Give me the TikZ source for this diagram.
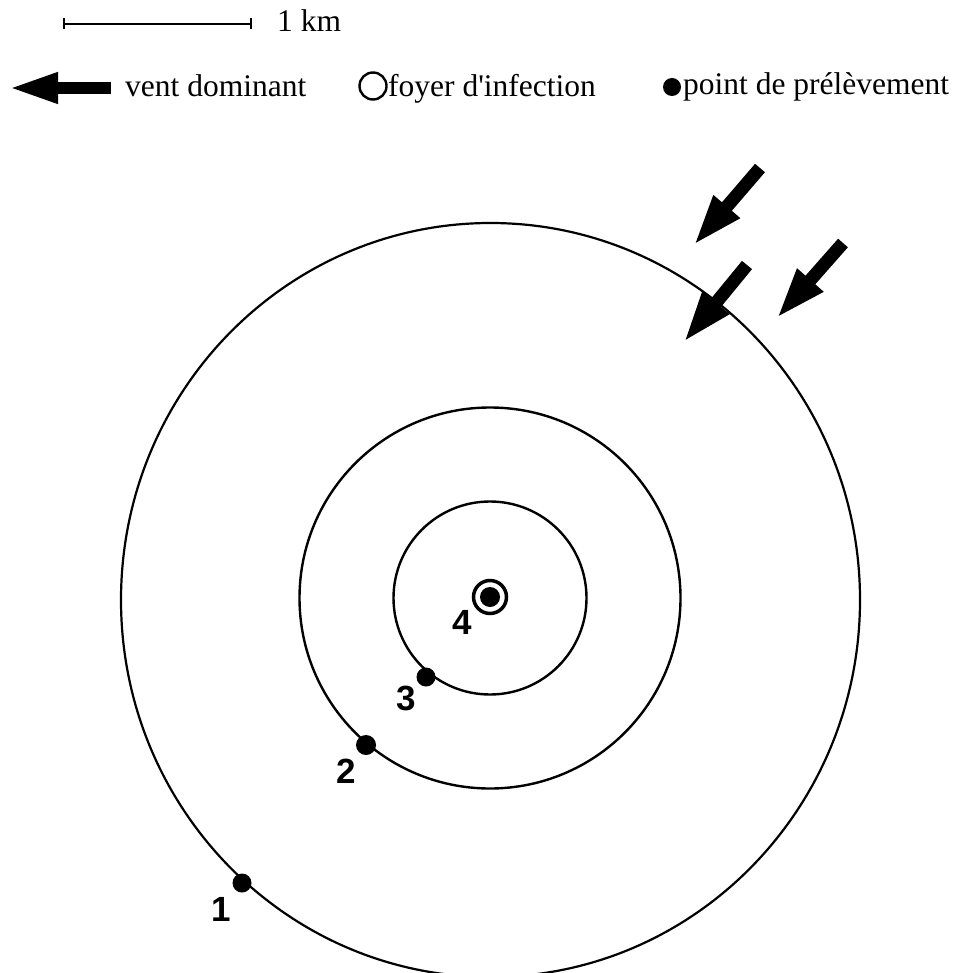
\documentclass[tikz,border=0pt]{standalone}
\usepackage{fontspec}
\setmainfont{Liberation Serif}
\newfontfamily\numfont{Liberation Sans}
\usetikzlibrary{arrows.meta,calc}
\tikzset{
  legtext/.style={anchor=base west, inner sep=0pt, font=\fontsize{31.5}{36}\selectfont},
  numlabel/.style={inner sep=0pt, font=\numfont\bfseries\fontsize{35}{40}\selectfont},
  ring/.style={line width=2.4pt},
  sample/.style={circle, fill=black, inner sep=0pt, minimum size=19pt},
  windarrow/.style={line width=13pt, -{Triangle[length=52pt,width=31pt]}},
}
\begin{document}
\begin{tikzpicture}[x=1pt,y=-1pt]
\useasboundingbox (0,0) rectangle (965,973);
\clip (0,0) rectangle (965,973);
% scale bar
\coordinate (sbL) at (63,24);
\coordinate (sbR) at (252,24);
\draw[line width=1.8pt, {Bar[width=11pt,line width=2pt]}-{Bar[width=11pt,line width=2pt]}] (sbL) -- (sbR);
\node[legtext] (km) at (277,32) {1 km};
% legend
\coordinate (legT) at (111,88);
\coordinate (legH) at (8,88);
\draw[line width=12pt, -{Triangle[length=50pt,width=28pt]}] (legT) -- (legH);
\node[legtext] (vent) at (125,97) {vent dominant};
\node[circle, draw, line width=2.4pt, minimum size=27pt, inner sep=0pt] (legfoyer) at (373,86) {};
\node[legtext] (foyer) at (388,97) {foyer d\textquotesingle infection};
\node[sample, minimum size=18pt] (legpt) at (672,87) {};
\node[legtext] (point) at (683,95) {point de prélèvement};
% circles
\coordinate (c) at (490,598);
\draw[ring, line width=2.2pt] (490.5,600) ellipse [x radius=369.5, y radius=377];
\draw[ring] (c) circle [radius=190.5];
\draw[ring] (c) circle [radius=96.5];
% foyer
\node[circle, draw, line width=3.5pt, minimum size=33pt, inner sep=0pt] (foyer4) at (490,597) {};
\node[sample, minimum size=20pt] (p4) at (490,597) {};
% sample points
\node[sample, minimum size=19pt] (p3) at (426,677) {};
\node[sample, minimum size=20pt] (p2) at (366,745) {};
\node[sample, minimum size=19pt] (p1) at (242,883) {};
\node[numlabel] (l4) at (462,622) {4};
\node[numlabel] (l3) at (406,698) {3};
\node[numlabel] (l2) at (346,771) {2};
\node[numlabel] (l1) at (221,909) {1};
% wind arrows
\coordinate (a1t) at (760,168); \coordinate (a1h) at (693,246);
\coordinate (a2t) at (747,265); \coordinate (a2h) at (683,343);
\coordinate (a3t) at (843,243); \coordinate (a3h) at (776,319);
\draw[windarrow] (a1t) -- (a1h);
\draw[windarrow] (a2t) -- (a2h);
\draw[windarrow] (a3t) -- (a3h);
\end{tikzpicture}
\end{document}
